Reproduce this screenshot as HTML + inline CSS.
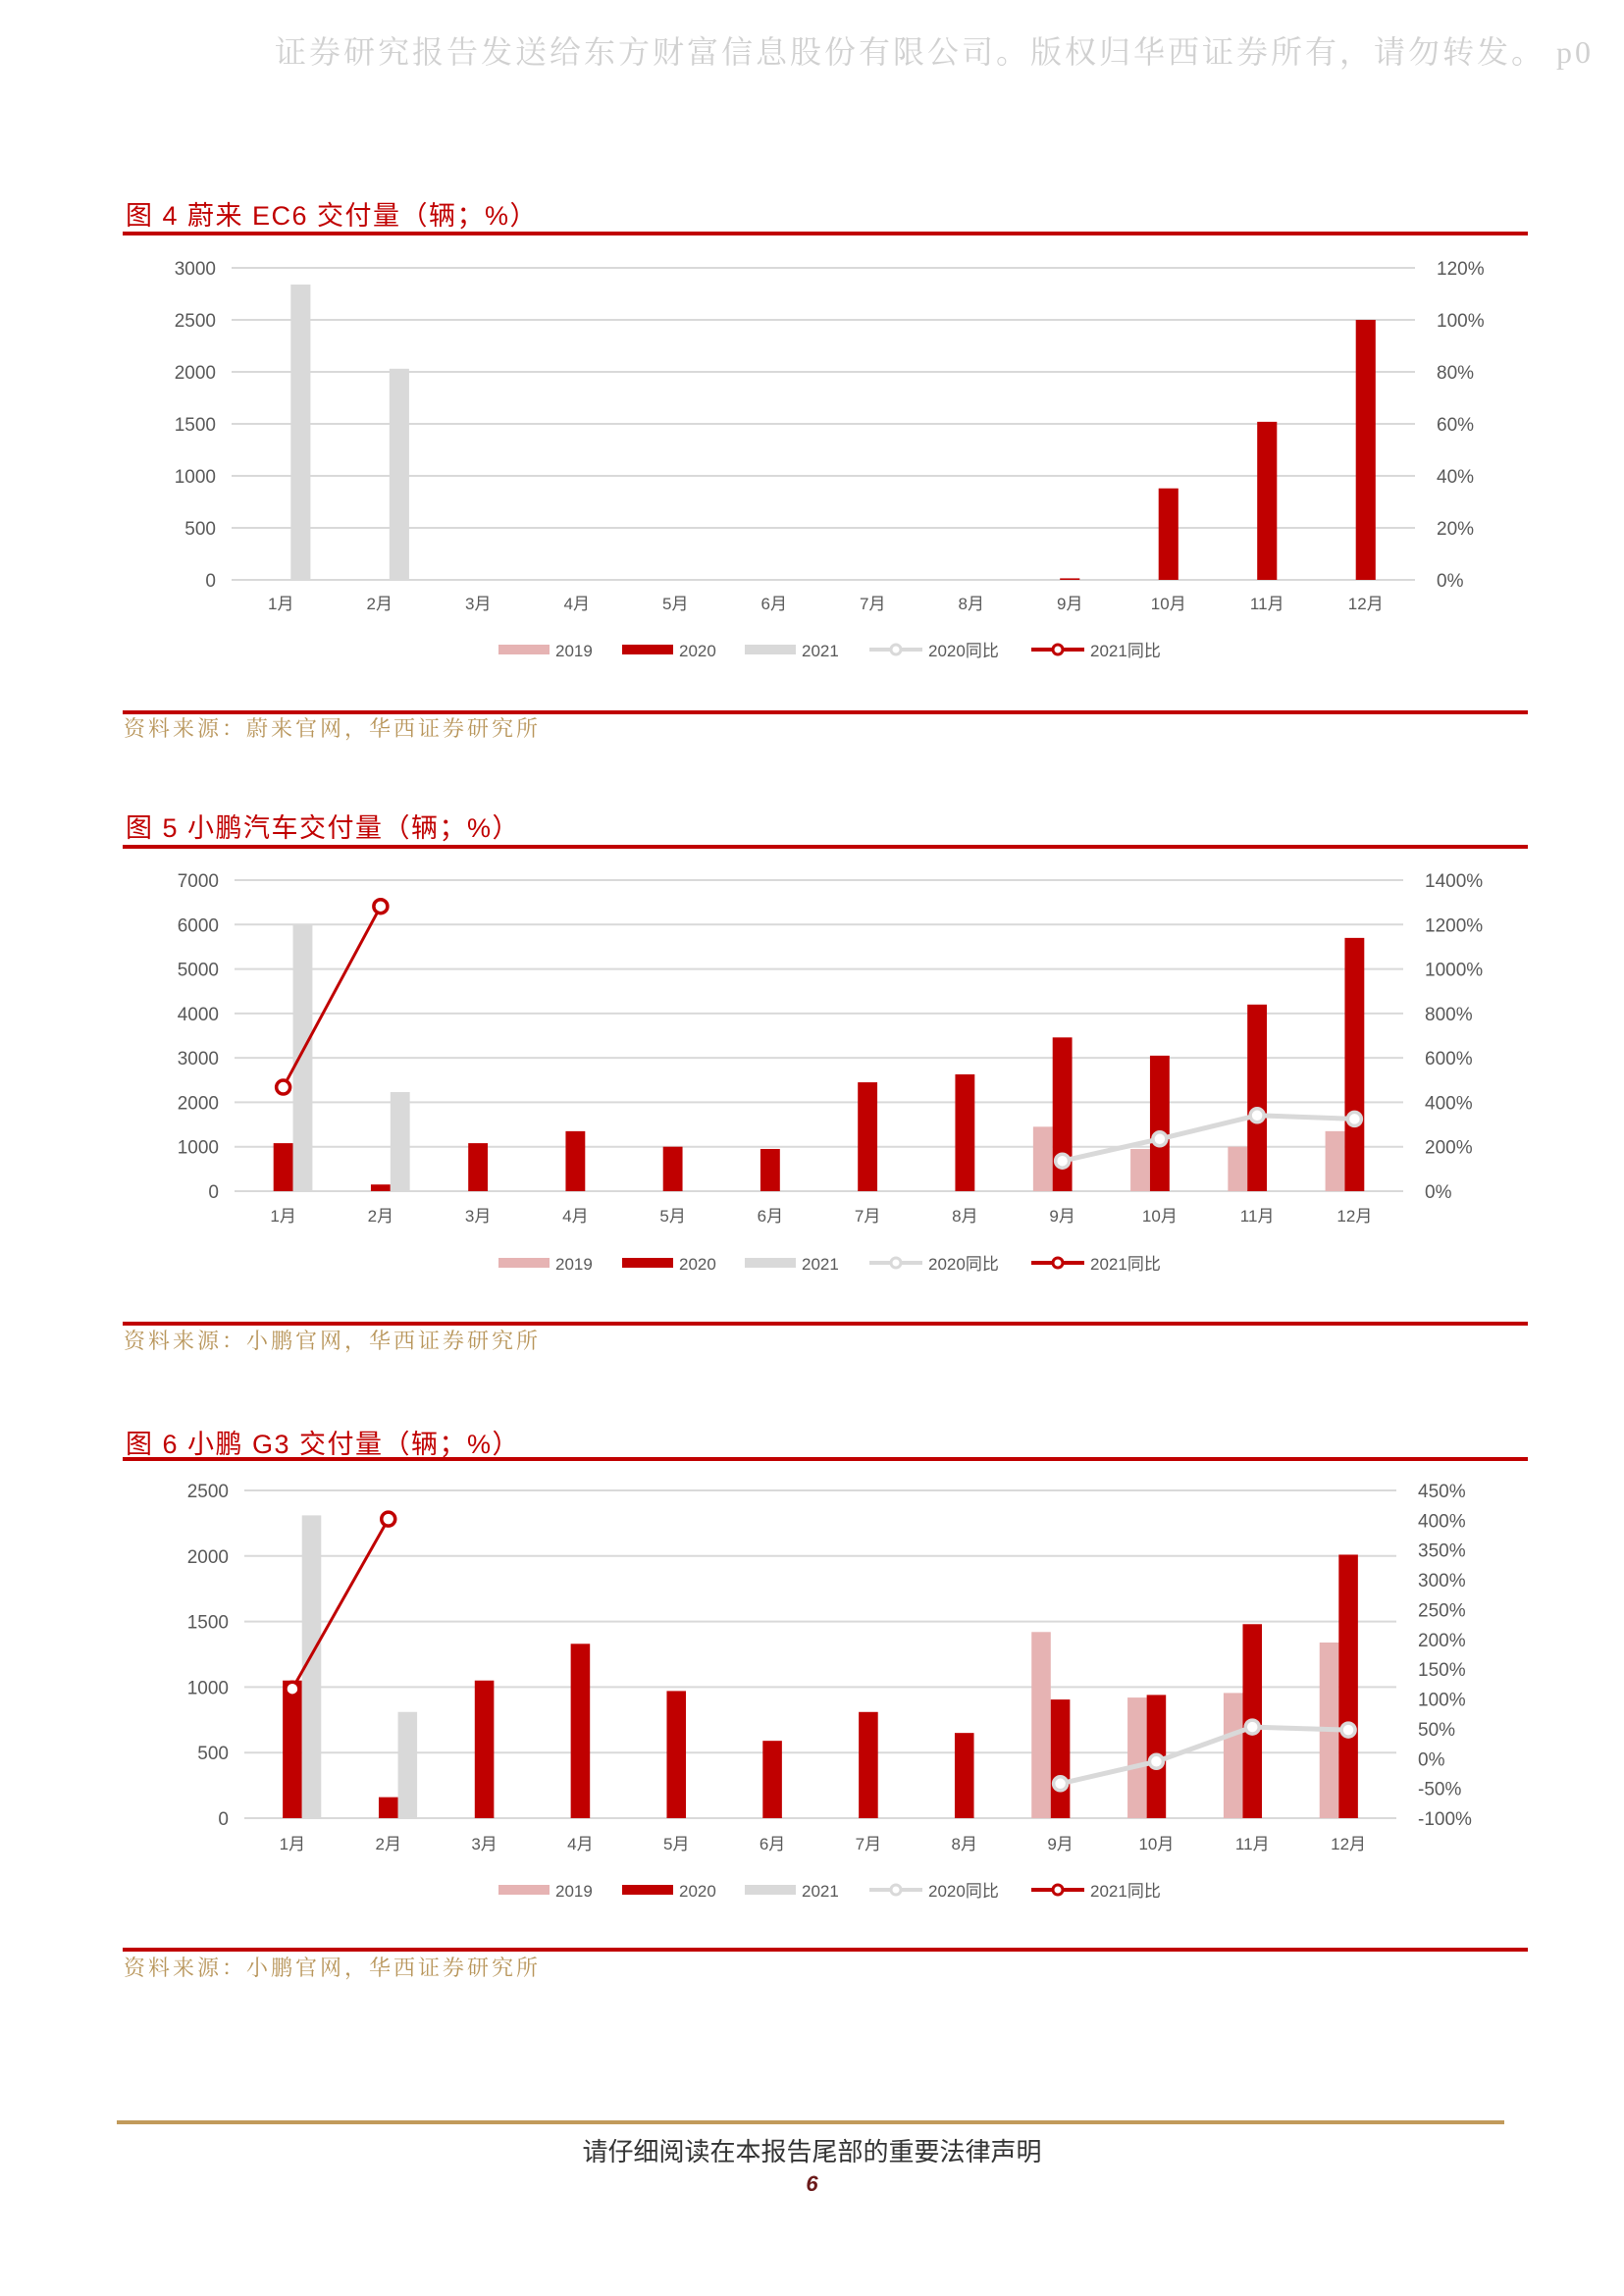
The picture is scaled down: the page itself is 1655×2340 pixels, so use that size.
<!DOCTYPE html>
<html><head><meta charset="utf-8"><style>
body{margin:0;width:1655px;height:2340px;background:#fff;position:relative;overflow:hidden;font-family:"Liberation Sans","Noto Sans CJK SC",sans-serif}
.abs{position:absolute;white-space:nowrap}
.title{color:#c00000;font-size:27px;letter-spacing:1.5px;font-family:"Liberation Sans","Noto Sans CJK SC",sans-serif}
.src{color:#b8955a;font-size:22px;letter-spacing:3px;font-family:"Liberation Serif","Noto Serif CJK SC",serif}
.rl{position:absolute;left:125px;width:1432px;height:4px;background:#c00000}
svg text{font-family:"Liberation Sans","Noto Sans CJK SC",sans-serif;fill:#595959}
</style></head><body>
<div class="abs" style="left:280px;top:28px;font-size:32px;color:#d0d0d0;letter-spacing:3px;font-family:'Liberation Serif','Noto Serif CJK SC',serif">证券研究报告发送给东方财富信息股份有限公司。版权归华西证券所有，请勿转发。 p0</div>

<div class="abs title" style="left:128px;top:198px">图 4  蔚来 EC6 交付量（辆；%）</div>
<div class="rl" style="top:236px"></div>
<svg id="c1" class="abs" style="left:0;top:0" width="1655" height="2340"></svg>
<div class="rl" style="top:724px"></div>
<div class="abs src" style="left:126px;top:726px">资料来源：蔚来官网，华西证券研究所</div>

<div class="abs title" style="left:128px;top:822px">图 5  小鹏汽车交付量（辆；%）</div>
<div class="rl" style="top:861px"></div>
<div class="rl" style="top:1347px"></div>
<div class="abs src" style="left:126px;top:1350px">资料来源：小鹏官网，华西证券研究所</div>

<div class="abs title" style="left:128px;top:1450px">图 6  小鹏 G3 交付量（辆；%）</div>
<div class="rl" style="top:1485px"></div>
<div class="rl" style="top:1985px"></div>
<div class="abs src" style="left:126px;top:1989px">资料来源：小鹏官网，华西证券研究所</div>

<div class="abs" style="left:119px;top:2161px;width:1414px;height:4px;background:#c19a5b"></div>
<div class="abs" style="left:0;width:1655px;text-align:center;top:2173px;font-size:26px;color:#333">请仔细阅读在本报告尾部的重要法律声明</div>
<div class="abs" style="left:0;width:1655px;text-align:center;top:2213px;font-size:22px;font-weight:bold;font-style:italic;color:#6b1a1a">6</div>

<script>
const months=["1月","2月","3月","4月","5月","6月","7月","8月","9月","10月","11月","12月"];
// chart 4
const c1_2019=[null,null,null,null,null,null,null,null,null,null,null,null];
const c1_2020=[null,null,null,null,null,null,null,null,15,880,1520,2500];
const c1_2021=[2840,2030,null,null,null,null,null,null,null,null,null,null];
const c1_yoy2020=[null,null,null,null,null,null,null,null,null,null,null,null];
const c1_yoy2021=[null,null,null,null,null,null,null,null,null,null,null,null];
const c1_leftTicks=[0,500,1000,1500,2000,2500,3000];
const c1_rightTicks=["0%","20%","40%","60%","80%","100%","120%"];
// chart 5
const c2_2019=[null,null,null,null,null,null,null,null,1450,950,1000,1350];
const c2_2020=[1080,150,1080,1350,1000,950,2450,2630,3460,3050,4200,5700];
const c2_2021=[6000,2230,null,null,null,null,null,null,null,null,null,null];
const c2_yoy2020=[null,null,null,null,null,null,null,null,136,235,341,325];
const c2_yoy2021=[468,1282,null,null,null,null,null,null,null,null,null,null];
const c2_leftTicks=[0,1000,2000,3000,4000,5000,6000,7000];
const c2_rightTicks=["0%","200%","400%","600%","800%","1000%","1200%","1400%"];
// chart 6
const c3_2019=[null,null,null,null,null,null,null,null,1420,920,955,1340];
const c3_2020=[1050,160,1050,1330,970,590,810,650,905,940,1480,2010];
const c3_2021=[2310,810,null,null,null,null,null,null,null,null,null,null];
const c3_yoy2020=[null,null,null,null,null,null,null,null,-42,-5,53,48];
const c3_yoy2021=[117,402,null,null,null,null,null,null,null,null,null,null];
const c3_leftTicks=[0,500,1000,1500,2000,2500];
const c3_rightTicks=["-100%","-50%","0%","50%","100%","150%","200%","250%","300%","350%","400%","450%"];

const NS="http://www.w3.org/2000/svg";
function mk(svg,tag,attrs){const e=document.createElementNS(NS,tag);for(const k in attrs)e.setAttribute(k,attrs[k]);svg.appendChild(e);return e;}
function chart(svg,cfg){
  const {L,R,T,B,lmax,rmin,rmax,leftTicks,rightTicks,b19,b20,b21,y20,y21,monthY,legY,name}=cfg;
  const step=(R-L)/12, bw=step*0.2;
  const yL=v=>B-(v/lmax)*(B-T);
  const yR=v=>B-((v-rmin)/(rmax-rmin))*(B-T);
  const xC=i=>L+step*(i+0.5);
  leftTicks.forEach(v=>{
    const y=yL(v);
    const g=mk(svg,'line',{x1:L,x2:R,y1:y,y2:y,stroke:'#d9d9d9','stroke-width':2});
    
    
    const t=mk(svg,'text',{x:L-16,y:y+7,'text-anchor':'end','font-size':19});t.textContent=v;
    
    
  });
  rightTicks.forEach((s,i)=>{
    const y=B-(i/(rightTicks.length-1))*(B-T);
    const t=mk(svg,'text',{x:R+22,y:y+7,'font-size':19});t.textContent=s;
    
    
  });
  months.forEach((m,i)=>{
    const t=mk(svg,'text',{x:xC(i),y:monthY,'text-anchor':'middle','font-size':17});t.textContent=m;
    
    
  });
  const series=[[b19,'#e6b3b3',-1.5],[b20,'#c00000',-0.5],[b21,'#d9d9d9',0.5]];
  series.forEach(([arr,col,off])=>arr.forEach((v,i)=>{
    if(v==null)return;
    const r=mk(svg,'rect',{x:xC(i)+off*bw,y:yL(v),width:bw,height:B-yL(v),fill:col});
    
    
  }));
  [[y20,'#d9d9d9',5],[y21,'#c00000',3]].forEach(([arr,col,w])=>{
    const pts=[];arr.forEach((v,i)=>{if(v!=null)pts.push([xC(i),yR(v)]);});
    if(!pts.length)return;
    const p=mk(svg,'polyline',{points:pts.map(p=>p.join(',')).join(' '),fill:'none',stroke:col,'stroke-width':w});
    
    
    pts.forEach(([x,y])=>{const c=mk(svg,'circle',{cx:x,cy:y,r:7,fill:'#fff',stroke:col,'stroke-width':3.5});
      
      });
  });
  const leg=[['2019','#e6b3b3','bar',508],['2020','#c00000','bar',634],['2021','#d9d9d9','bar',759],['2020同比','#d9d9d9','line',886],['2021同比','#c00000','line',1051]];
  leg.forEach(([lab,col,type,x])=>{
    if(type==='bar'){const r=mk(svg,'rect',{x:x,y:legY-6,width:52,height:10,fill:col});
      
      }
    else{mk(svg,'line',{x1:x,x2:x+54,y1:legY-1,y2:legY-1,stroke:col,'stroke-width':4});
      const c=mk(svg,'circle',{cx:x+27,cy:legY-1,r:5,fill:'#fff',stroke:col,'stroke-width':3});
      
      }
    const t=mk(svg,'text',{x:x+(type==='bar'?58:60),y:legY+6,'font-size':17});t.textContent=lab;
    
    
  });
}
const svg=document.getElementById('c1');
chart(svg,{name:'chart4',L:236,R:1442,T:273,B:591,lmax:3000,rmin:0,rmax:120,leftTicks:c1_leftTicks,rightTicks:c1_rightTicks,b19:c1_2019,b20:c1_2020,b21:c1_2021,y20:c1_yoy2020,y21:c1_yoy2021,monthY:621,legY:663});
chart(svg,{name:'chart5',L:239,R:1430,T:897,B:1214,lmax:7000,rmin:0,rmax:1400,leftTicks:c2_leftTicks,rightTicks:c2_rightTicks,b19:c2_2019,b20:c2_2020,b21:c2_2021,y20:c2_yoy2020,y21:c2_yoy2021,monthY:1245,legY:1288});
chart(svg,{name:'chart6',L:249,R:1423,T:1519,B:1853,lmax:2500,rmin:-100,rmax:450,leftTicks:c3_leftTicks,rightTicks:c3_rightTicks,b19:c3_2019,b20:c3_2020,b21:c3_2021,y20:c3_yoy2020,y21:c3_yoy2021,monthY:1885,legY:1927});
</script>
</body></html>
